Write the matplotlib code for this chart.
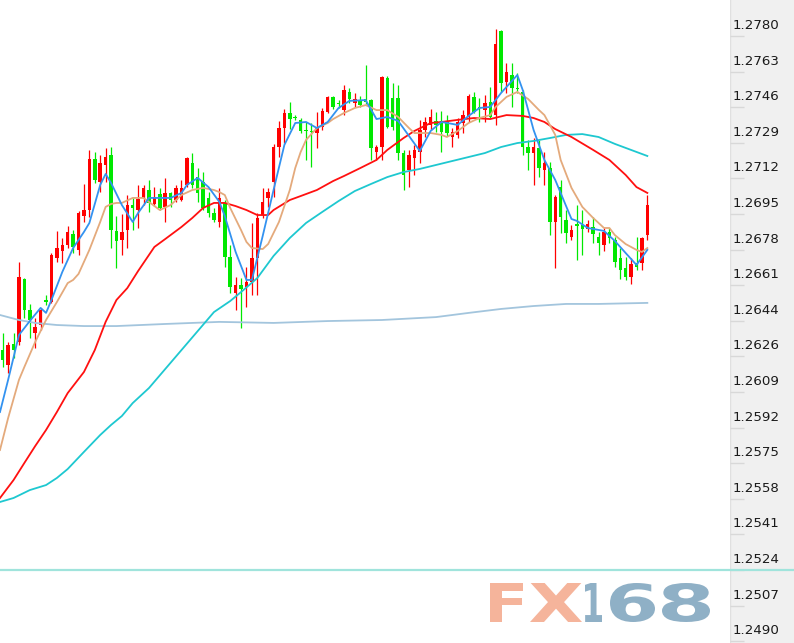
import numpy as np
import matplotlib
matplotlib.use("Agg")
import matplotlib.pyplot as plt
from matplotlib.textpath import TextPath
from matplotlib.patches import PathPatch
from matplotlib.font_manager import FontProperties
from matplotlib.transforms import Affine2D, IdentityTransform, offset_copy

# candle data
opens = [1.26295, 1.26223, 1.26324, 1.26334, 1.26636, 1.26487, 1.26377, 1.26415, 1.26535, 1.26525,
         1.26736, 1.26770, 1.26799, 1.26851, 1.26775, 1.26937, 1.26966, 1.27211, 1.27100, 1.27182,
         1.27230, 1.26866, 1.26822, 1.26870, 1.26990, 1.26966, 1.27024, 1.27062, 1.26995, 1.27043,
         1.26981, 1.27048, 1.27014, 1.27014, 1.27086, 1.27191, 1.27124, 1.27100, 1.27024, 1.26952,
         1.26909, 1.27000, 1.26741, 1.26568, 1.26607, 1.26597, 1.26621, 1.26736, 1.26942, 1.27024,
         1.27100, 1.27268, 1.27359, 1.27431, 1.27412, 1.27398, 1.27350, 1.27345, 1.27335, 1.27364,
         1.27436, 1.27508, 1.27479, 1.27445, 1.27532, 1.27479, 1.27493, 1.27498, 1.27493, 1.27244,
         1.27268, 1.27599, 1.27503, 1.27503, 1.27239, 1.27158, 1.27215, 1.27244, 1.27350, 1.27374,
         1.27393, 1.27393, 1.27388, 1.27316, 1.27326, 1.27383, 1.27412, 1.27508, 1.27460, 1.27445,
         1.27484, 1.27421, 1.27824, 1.27580, 1.27613, 1.27551, 1.27532, 1.27268, 1.27239, 1.27263,
         1.27158, 1.27167, 1.26909, 1.27076, 1.26918, 1.26837, 1.26899, 1.26894, 1.26875, 1.26885,
         1.26837, 1.26799, 1.26861, 1.26822, 1.26736, 1.26688, 1.26645, 1.26712, 1.26712, 1.26846]
highs = [1.26377, 1.26334, 1.26377, 1.26717, 1.26640, 1.26516, 1.26449, 1.26497, 1.26559, 1.26760,
         1.26866, 1.26832, 1.26890, 1.26870, 1.26961, 1.27091, 1.27254, 1.27244, 1.27230, 1.27263,
         1.27268, 1.26937, 1.26947, 1.27038, 1.27024, 1.27086, 1.27086, 1.27110, 1.27076, 1.27072,
         1.27120, 1.27052, 1.27086, 1.27110, 1.27220, 1.27239, 1.27167, 1.27148, 1.27052, 1.26976,
         1.27072, 1.27014, 1.26799, 1.26645, 1.26640, 1.26693, 1.26904, 1.26952, 1.27072, 1.27072,
         1.27283, 1.27393, 1.27450, 1.27484, 1.27421, 1.27407, 1.27388, 1.27383, 1.27436, 1.27455,
         1.27513, 1.27513, 1.27493, 1.27565, 1.27551, 1.27527, 1.27513, 1.27661, 1.27498, 1.27278,
         1.27608, 1.27608, 1.27575, 1.27565, 1.27254, 1.27254, 1.27278, 1.27398, 1.27412, 1.27450,
         1.27436, 1.27441, 1.27421, 1.27359, 1.27407, 1.27445, 1.27522, 1.27532, 1.27503, 1.27517,
         1.27556, 1.27834, 1.27829, 1.27671, 1.27671, 1.27623, 1.27541, 1.27302, 1.27311, 1.27302,
         1.27244, 1.27196, 1.27038, 1.27110, 1.26966, 1.26894, 1.26990, 1.26966, 1.26918, 1.26933,
         1.26861, 1.26880, 1.26880, 1.26837, 1.26784, 1.26741, 1.26736, 1.26837, 1.26837, 1.27038]
lows = [1.26214, 1.26185, 1.26257, 1.26319, 1.26449, 1.26353, 1.26305, 1.26391, 1.26511, 1.26521,
        1.26717, 1.26712, 1.26784, 1.26760, 1.26751, 1.26909, 1.26933, 1.27096, 1.27052, 1.27100,
        1.26784, 1.26688, 1.26751, 1.26784, 1.26870, 1.26880, 1.26990, 1.26957, 1.26985, 1.26966,
        1.26909, 1.26981, 1.27005, 1.27009, 1.27076, 1.27072, 1.27005, 1.26966, 1.26933, 1.26909,
        1.26885, 1.26693, 1.26568, 1.26487, 1.26401, 1.26501, 1.26559, 1.26559, 1.26928, 1.26981,
        1.27029, 1.27220, 1.27287, 1.27354, 1.27398, 1.27335, 1.27206, 1.27172, 1.27263, 1.27350,
        1.27431, 1.27450, 1.27455, 1.27421, 1.27479, 1.27460, 1.27460, 1.27474, 1.27206, 1.27206,
        1.27206, 1.27359, 1.27350, 1.27206, 1.27062, 1.27076, 1.27134, 1.27191, 1.27316, 1.27350,
        1.27340, 1.27244, 1.27321, 1.27268, 1.27311, 1.27335, 1.27388, 1.27431, 1.27388, 1.27388,
        1.27407, 1.27374, 1.27532, 1.27527, 1.27460, 1.27527, 1.27230, 1.27158, 1.27086, 1.27124,
        1.27086, 1.26846, 1.26688, 1.26856, 1.26808, 1.26822, 1.26727, 1.26751, 1.26861, 1.26808,
        1.26751, 1.26770, 1.26808, 1.26693, 1.26636, 1.26631, 1.26612, 1.26679, 1.26679, 1.26822]
closes = [1.26247, 1.26319, 1.26295, 1.26645, 1.26487, 1.26439, 1.26406, 1.26487, 1.26525, 1.26751,
          1.26784, 1.26799, 1.26861, 1.26789, 1.26952, 1.26966, 1.27211, 1.27110, 1.27191, 1.27220,
          1.26870, 1.26818, 1.26861, 1.26990, 1.26976, 1.27019, 1.27072, 1.27000, 1.27029, 1.26976,
          1.27048, 1.27014, 1.27072, 1.27072, 1.27215, 1.27086, 1.27048, 1.26976, 1.26952, 1.26918,
          1.27024, 1.26741, 1.26597, 1.26607, 1.26588, 1.26621, 1.26736, 1.26928, 1.27005, 1.27052,
          1.27268, 1.27359, 1.27431, 1.27402, 1.27407, 1.27345, 1.27345, 1.27340, 1.27364, 1.27441,
          1.27508, 1.27460, 1.27474, 1.27541, 1.27498, 1.27498, 1.27469, 1.27484, 1.27263, 1.27268,
          1.27604, 1.27364, 1.27364, 1.27239, 1.27134, 1.27230, 1.27254, 1.27350, 1.27388, 1.27412,
          1.27374, 1.27340, 1.27335, 1.27340, 1.27388, 1.27421, 1.27513, 1.27436, 1.27455, 1.27479,
          1.27412, 1.27762, 1.27575, 1.27628, 1.27551, 1.27546, 1.27268, 1.27239, 1.27268, 1.27167,
          1.27191, 1.26909, 1.27029, 1.26933, 1.26856, 1.26870, 1.26890, 1.26875, 1.26899, 1.26851,
          1.26808, 1.26861, 1.26832, 1.26717, 1.26679, 1.26645, 1.26707, 1.26693, 1.26832, 1.26990]

# moving average lines, read at candle positions
ma5_idx = [-0.5, 1, 3, 5, 7, 8, 9, 11, 13, 15, 16, 18, 19, 20, 22, 24, 25, 27, 31, 33, 34, 36,
           38, 40, 41, 43, 45, 46, 48, 50, 52, 54, 56, 58, 60, 62, 64, 67, 69, 71, 73, 75, 77,
           79, 81, 84, 86, 88, 90, 92, 95, 96, 98, 100, 102, 105, 106, 108, 111, 113, 115, 117, 119]
ma5_val = [1.25998, 1.26152, 1.26367, 1.26434, 1.26497, 1.26473, 1.26535, 1.26669, 1.26784, 1.26861,
           1.26904, 1.27086, 1.27139, 1.27096, 1.26990, 1.26909, 1.26952, 1.27024, 1.27024, 1.27048,
           1.27086, 1.27120, 1.27076, 1.27005, 1.26937, 1.26765, 1.26631, 1.26631, 1.26842, 1.27062,
           1.27278, 1.27383, 1.27388, 1.27359, 1.27388, 1.27455, 1.27489, 1.27493, 1.27402, 1.27412,
           1.27393, 1.27321, 1.27249, 1.27345, 1.27388, 1.27374, 1.27417, 1.27455, 1.27460, 1.27527,
           1.27613, 1.27541, 1.27350, 1.27206, 1.27110, 1.26923, 1.26914, 1.26880, 1.26866, 1.26818,
           1.26760, 1.26703, 1.26775]

ma10_idx = [-0.5, 1, 3, 4, 6, 8, 10, 12, 13, 14, 16, 18, 19, 20, 21, 22, 24, 26, 27, 29, 31, 33,
            35, 37, 39, 40, 41, 42, 44, 45, 46, 48, 49, 51, 53, 54, 55, 56, 58, 60, 61, 63, 65,
            67, 69, 71, 73, 75, 76, 79, 81, 82, 84, 86, 88, 90, 91, 93, 95, 97, 99, 100, 101,
            102, 103, 105, 107, 109, 111, 112, 113, 115, 117, 118, 119]
ma10_val = [1.25816, 1.25969, 1.26152, 1.26214, 1.26334, 1.26439, 1.26525, 1.26616, 1.26631, 1.26660,
            1.26775, 1.26909, 1.26981, 1.26995, 1.27000, 1.27000, 1.27024, 1.27024, 1.27005, 1.26966,
            1.26990, 1.27038, 1.27062, 1.27072, 1.27062, 1.27052, 1.27038, 1.26976, 1.26870, 1.26813,
            1.26784, 1.26779, 1.26803, 1.26909, 1.27062, 1.27167, 1.27244, 1.27302, 1.27359, 1.27383,
            1.27402, 1.27431, 1.27455, 1.27469, 1.27445, 1.27445, 1.27412, 1.27359, 1.27335, 1.27335,
            1.27326, 1.27316, 1.27345, 1.27383, 1.27407, 1.27421, 1.27460, 1.27508, 1.27532, 1.27498,
            1.27445, 1.27421, 1.27374, 1.27326, 1.27206, 1.27072, 1.26981, 1.26928, 1.26880, 1.26880,
            1.26846, 1.26803, 1.26775, 1.26765, 1.26784]

ma30_idx = [-0.5, 2, 4, 6, 8, 10, 12, 15, 17, 19, 21, 23, 25, 28, 30, 33, 35, 37, 39, 41, 43, 45,
            47, 49, 50, 53, 55, 58, 61, 63, 66, 69, 71, 74, 76, 79, 81, 84, 87, 90, 93, 96, 98,
            100, 102, 105, 109, 112, 115, 117, 119]
ma30_val = [1.25586, 1.25672, 1.25754, 1.25835, 1.25912, 1.25998, 1.26089, 1.26190, 1.26295, 1.26430,
            1.26535, 1.26592, 1.26674, 1.26789, 1.26827, 1.26885, 1.26928, 1.26976, 1.27000, 1.27000,
            1.26985, 1.26966, 1.26942, 1.26942, 1.26966, 1.27014, 1.27033, 1.27062, 1.27105, 1.27129,
            1.27167, 1.27206, 1.27254, 1.27311, 1.27345, 1.27383, 1.27388, 1.27398, 1.27407, 1.27402,
            1.27421, 1.27417, 1.27407, 1.27388, 1.27354, 1.27316, 1.27254, 1.27206, 1.27134, 1.27076,
            1.27048]

ma60_idx = [-0.5, 2, 5, 8, 10, 12, 15, 18, 20, 22, 24, 27, 30, 33, 36, 39, 42, 44, 47, 50, 53, 56,
            59, 62, 65, 68, 71, 74, 77, 80, 83, 86, 89, 92, 95, 98, 101, 104, 107, 110, 113, 116, 119]
ma60_val = [1.25567, 1.25586, 1.25624, 1.25648, 1.25682, 1.25725, 1.25807, 1.25888, 1.25936, 1.25979,
            1.26041, 1.26113, 1.26204, 1.26295, 1.26386, 1.26477, 1.26530, 1.26573, 1.26640, 1.26746,
            1.26832, 1.26904, 1.26957, 1.27009, 1.27057, 1.27091, 1.27124, 1.27148, 1.27163, 1.27182,
            1.27201, 1.27220, 1.27239, 1.27268, 1.27287, 1.27297, 1.27311, 1.27326, 1.27330, 1.27316,
            1.27283, 1.27254, 1.27225]

ma200_idx = [-0.5, 3, 6, 10, 15, 21, 30, 40, 50, 60, 70, 80, 86, 92, 98, 104, 110, 119]
ma200_val = [1.26463, 1.26439, 1.26425, 1.26415, 1.26410, 1.26410, 1.26420, 1.26430, 1.26425, 1.26434,
             1.26439, 1.26453, 1.26473, 1.26492, 1.26506, 1.26516, 1.26516, 1.26521]

tick_labels = ["1.2780", "1.2763", "1.2746", "1.2729", "1.2712", "1.2695", "1.2678", "1.2661", "1.2644",
               "1.2626", "1.2609", "1.2592", "1.2575", "1.2558", "1.2541", "1.2524", "1.2507", "1.2490"]
tick_values = np.linspace(1.2780, 1.2490, len(tick_labels))

W, H = 794, 643
fig = plt.figure(figsize=(W / 100, H / 100), dpi=100)
ax = fig.add_axes([0, 0, 730 / W, 1])
panel = fig.add_axes([730 / W, 0, 64 / W, 1], sharey=ax)

ax.set_xlim(-0.498, 134.26)
ax.set_ylim(1.248912, 1.279725)
ax.axis("off")

# candles
x = np.arange(len(opens))
o, h, l, c = map(np.array, (opens, highs, lows, closes))
colors = np.where(c >= o, "#ff0000", "#00e800")
ax.vlines(x, l, h, colors=colors, lw=0.9, zorder=2)
body = np.maximum(np.abs(c - o), 0.00004)
ax.bar(x, body, 0.64, bottom=np.minimum(o, c), color=colors, lw=0, zorder=3)

# moving averages
ax.plot(ma200_idx, ma200_val, color="#a3c5dd", lw=1.3, zorder=4)
ax.plot(ma60_idx, ma60_val, color="#1ec8d0", lw=1.3, zorder=4)
ax.plot(ma30_idx, ma30_val, color="#ff1010", lw=1.3, zorder=4)
ax.plot(ma10_idx, ma10_val, color="#e4aa7c", lw=1.3, zorder=5)
ax.plot(ma5_idx, ma5_val, color="#3392f0", lw=1.3, zorder=6)

ax.axhline(tick_values[15], color="#a0e4dc", lw=1.6, zorder=1)

# price axis panel
panel.set_facecolor("#f0f0f0")
panel.set_xlim(0, 64)
for s in panel.spines.values():
    s.set_visible(False)
panel.tick_params(left=False, bottom=False, labelleft=False, labelbottom=False)
panel.axvline(0.3, color="#e0e0e0", lw=1)
panel.hlines(tick_values, 0, 14, color="#d8d8d8", lw=1)
panel.axhline(tick_values[15], color="#a0e4dc", lw=1.6)
lbl_tr = offset_copy(panel.transData, fig=fig, x=0, y=10.5, units="dots")
for v, t in zip(tick_values, tick_labels):
    panel.text(3, v, t, transform=lbl_tr, va="center", ha="left", fontsize=9.6,
               color="#1a1a1a", family="DejaVu Sans")

# FX168 watermark
fp = FontProperties(family="DejaVu Sans", weight="bold")
salmon, steel = "#f5b49b", "#8fb0c6"
glyphs = [("F", 490, 523, salmon), ("X", 530, 582, salmon), ("1", 585, 602, steel),
          ("6", 610, 655, steel), ("8", 662, 710, steel)]
for ch, x0, x1, col in glyphs:
    tp = TextPath((0, 0), ch, size=10, prop=fp)
    bb = tp.get_extents()
    tr = Affine2D().translate(-bb.x0, -bb.y0).scale((x1 - x0) / bb.width, 39 / bb.height).translate(x0, 21)
    fig.add_artist(PathPatch(tr.transform_path(tp), transform=IdentityTransform(), color=col, lw=0))

fig.savefig("out.png", dpi=100)
